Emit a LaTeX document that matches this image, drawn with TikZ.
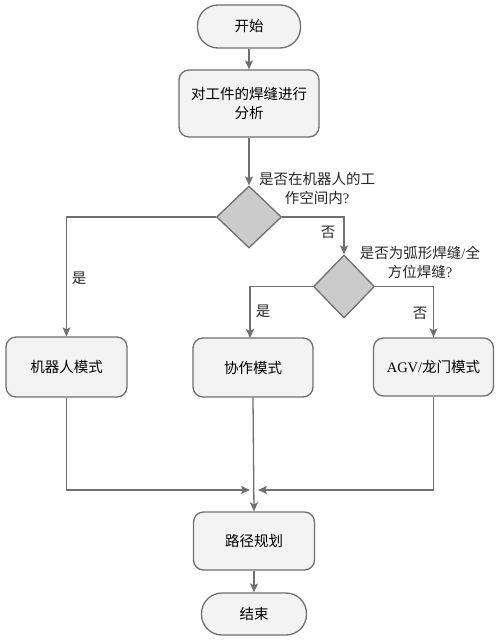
\documentclass[tikz,border=0pt]{standalone}
\usepackage{fontspec}
\setmainfont{Noto Sans CJK SC}
\newfontfamily\lat{Liberation Serif}
\usetikzlibrary{shapes.geometric,arrows.meta}
\definecolor{edge}{HTML}{6F6F6F}
\definecolor{boxfill}{HTML}{F3F3F3}
\definecolor{dfill}{HTML}{CBCBCB}
\begin{document}
\begin{tikzpicture}[x=1pt,y=-1pt,
  font=\fontsize{14.5}{19}\selectfont,
  box/.style={draw=edge,fill=boxfill,line width=1.3pt,rounded corners=10pt,align=center,inner sep=0pt},
  term/.style={draw=edge,fill=boxfill,line width=1.3pt,rounded corners=20.5pt,inner sep=0pt},
  dia/.style={draw=edge,fill=dfill,line width=1.3pt,diamond,inner sep=0pt},
  conn/.style={draw=edge,line width=1.3pt,-{Stealth[length=9pt,width=8pt,inset=2pt]}},
  plain/.style={draw=edge,line width=1.3pt},
  lbl/.style={inner sep=0pt,align=center,text=black!85}]
\useasboundingbox (0,0) rectangle (500,642);
\node[term,minimum width=103pt,minimum height=43pt] (start) at (249,26.5) {开始};
\node[box,minimum width=140pt,minimum height=67pt] (ana) at (249,103.5) {对工件的焊缝进行\\分析};
\node[dia,minimum width=65pt,minimum height=62pt] (d1) at (249,217) {};
\node[dia,minimum width=61pt,minimum height=63pt] (d2) at (344,286.5) {};
\node[box,minimum width=121pt,minimum height=60pt] (robot) at (66.5,367) {机器人模式};
\node[box,minimum width=120pt,minimum height=59pt] (coop) at (253,367.5) {协作模式};
\node[box,minimum width=120pt,minimum height=58pt] (agv) at (433.5,367) {{\lat AGV/}龙门模式};
\node[box,minimum width=121pt,minimum height=58pt] (path) at (254,541) {路径规划};
\node[term,minimum width=105pt,minimum height=42pt] (end) at (254,614) {结束};
\node[lbl] (q1) at (317,188) {是否在机器人的工\\作空间内{\lat ?}};
\node[lbl] (q2) at (420,262) {是否为弧形焊缝{\lat /}全\\方位焊缝{\lat ?}};
\node[lbl] (y1) at (79,278) {是};
\node[lbl] (n1) at (328,232) {否};
\node[lbl] (y2) at (263,311) {是};
\node[lbl] (n2) at (420,313) {否};
\coordinate (m1) at (250,490);
\coordinate (m2) at (258,490);
\coordinate (ctop) at (250,338);
\draw[conn] (start) -- (ana);
\draw[conn] (ana) -- (d1);
\draw[conn] (d1.west) -| (robot.north);
\draw[conn] (d1.east) -| (d2.north);
\draw[conn] (d2.west) -| (ctop);
\draw[conn] (d2.east) -| (agv.north);
\draw[conn] (robot.south) |- (m1);
\draw[conn] (agv.south) |- (m2);
\draw[conn] (coop.south) -- (path.north);
\draw[conn] (path) -- (end);
\end{tikzpicture}
\end{document}
